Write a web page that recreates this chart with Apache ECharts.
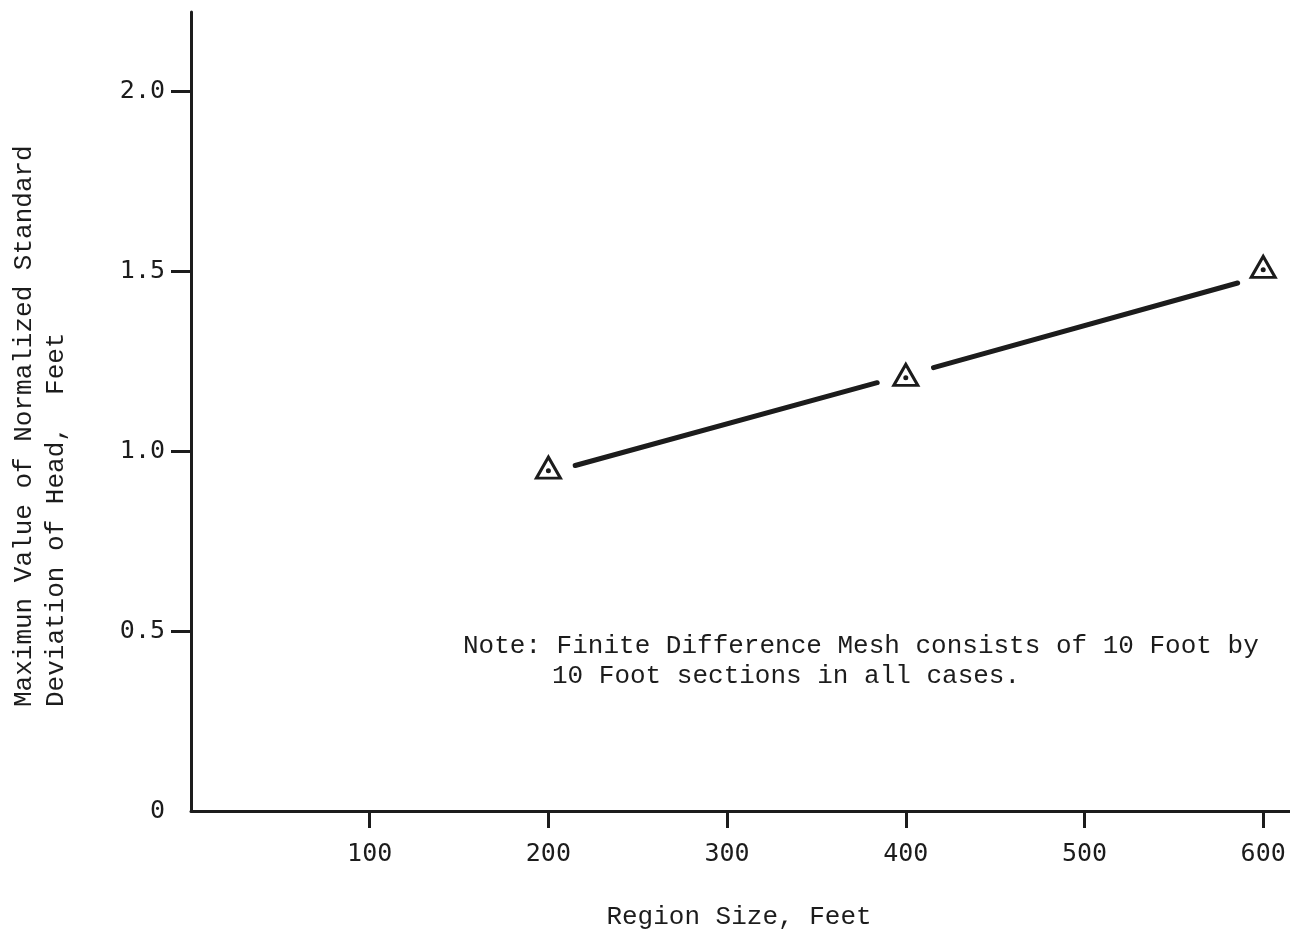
<!DOCTYPE html>
<html>
<head>
<meta charset="utf-8">
<title>Maximum normalized standard deviation of head vs region size</title>
<script src="https://cdn.jsdelivr.net/npm/echarts@6/dist/echarts.min.js"></script>
<style>
  html, body { margin: 0; padding: 0; background: #fff; }
  #chart { width: 1290px; height: 934px; }
</style>
</head>
<body>
<div id="chart"></div>
<script>
// data
const regionSize = [200, 400, 600]
const maxStdDev = [0.954, 1.212, 1.512]
// drawn trend line, broken around the middle marker
const fitSegA = [[215, 0.960], [384, 1.190]]
const fitSegB = [[415.5, 1.232], [585.7, 1.467]]
// axis ticks
const xTicks = [100, 200, 300, 400, 500, 600]
const yTicks = [0.5, 1.0, 1.5, 2.0]
const yLabels = [0, 0.5, 1.0, 1.5, 2.0]

const ink = '#1c1c1c'
const monoFont = '"Liberation Mono", "DejaVu Sans Mono", monospace'
const tickFont = '"DejaVu Sans Mono", monospace'

const chart = echarts.init(document.getElementById('chart'))

const pts = regionSize.map((x, i) => [x, maxStdDev[i]])

const option = {
  backgroundColor: '#fff',
  animation: false,
  grid: { left: 191, right: 0, top: 12, bottom: 123 },
  xAxis: {
    type: 'value',
    min: 0,
    max: 615,
    axisLine: { show: true, lineStyle: { color: ink, width: 3 } },
    axisTick: {
      show: true,
      customValues: xTicks,
      length: 17,
      lineStyle: { color: ink, width: 3 }
    },
    axisLabel: {
      customValues: xTicks,
      margin: 31,
      color: ink,
      fontSize: 25,
      fontFamily: tickFont
    },
    splitLine: { show: false }
  },
  yAxis: {
    type: 'value',
    min: 0,
    max: 2.22,
    axisLine: { show: true, lineStyle: { color: ink, width: 3 } },
    axisTick: {
      show: true,
      customValues: yTicks,
      length: 20,
      lineStyle: { color: ink, width: 3 }
    },
    axisLabel: {
      customValues: yLabels,
      margin: 26,
      color: ink,
      fontSize: 25,
      fontFamily: tickFont,
      formatter: v => (v === 0 ? '0' : v.toFixed(1))
    },
    splitLine: { show: false }
  },
  series: [
    {
      type: 'line',
      data: fitSegA,
      symbol: 'none',
      lineStyle: { color: ink, width: 5, cap: 'round' },
      z: 2
    },
    {
      type: 'line',
      data: fitSegB,
      symbol: 'none',
      lineStyle: { color: ink, width: 5, cap: 'round' },
      z: 2
    },
    {
      type: 'scatter',
      data: pts,
      symbol: 'triangle',
      symbolSize: [24, 21],
      itemStyle: { color: '#fff', borderColor: ink, borderWidth: 3, opacity: 1 },
      z: 3
    },
    {
      type: 'scatter',
      data: pts,
      symbol: 'circle',
      symbolSize: 5,
      symbolOffset: [0, 3],
      itemStyle: { color: ink, opacity: 1 },
      z: 4
    }
  ],
  graphic: [
    {
      type: 'text',
      x: 24, y: 707,
      rotation: Math.PI / 2,
      style: {
        text: 'Maximun Value of Normalized Standard',
        fill: ink, font: '26px ' + monoFont,
        textAlign: 'left', textVerticalAlign: 'middle'
      }
    },
    {
      type: 'text',
      x: 56, y: 707,
      rotation: Math.PI / 2,
      style: {
        text: 'Deviation of Head,  Feet',
        fill: ink, font: '26px ' + monoFont,
        textAlign: 'left', textVerticalAlign: 'middle'
      }
    },
    {
      type: 'text',
      x: 739, y: 917,
      style: {
        text: 'Region Size, Feet',
        fill: ink, font: '26px ' + monoFont,
        textAlign: 'center', textVerticalAlign: 'middle'
      }
    },
    {
      type: 'text',
      x: 463, y: 646,
      style: {
        text: 'Note: Finite Difference Mesh consists of 10 Foot by',
        fill: ink, font: '26px ' + monoFont,
        textAlign: 'left', textVerticalAlign: 'middle'
      }
    },
    {
      type: 'text',
      x: 552, y: 676,
      style: {
        text: '10 Foot sections in all cases.',
        fill: ink, font: '26px ' + monoFont,
        textAlign: 'left', textVerticalAlign: 'middle'
      }
    }
  ]
}

chart.setOption(option)
</script>
</body>
</html>
